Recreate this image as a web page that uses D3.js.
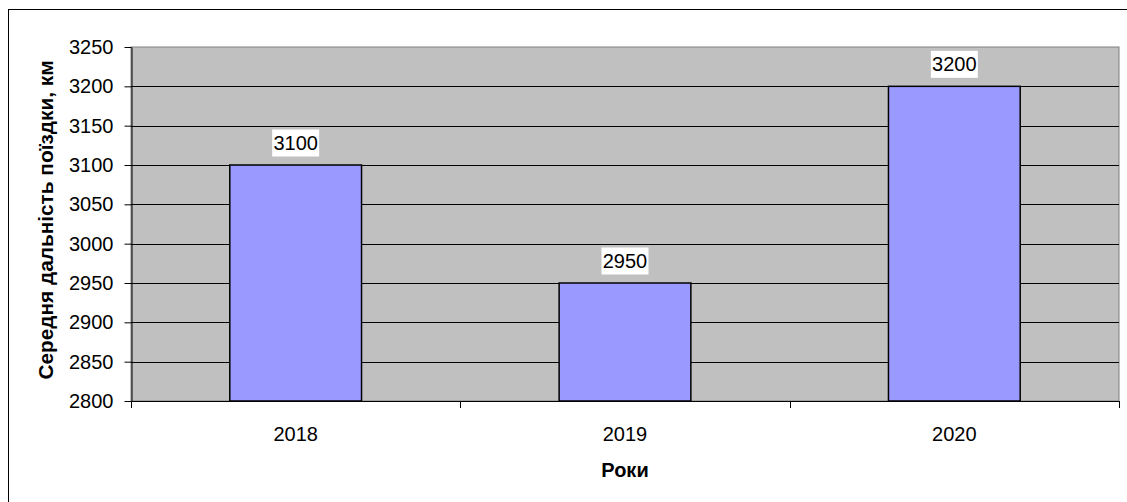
<!DOCTYPE html>
<html><head><meta charset="utf-8">
<script src="https://cdn.jsdelivr.net/npm/d3@7"></script>
<style>body{margin:0;background:#fff;} text{font-family:"Liberation Sans",Arial,sans-serif;}</style>
</head><body>
<svg id="c" width="1127" height="502"></svg>
<script>
const categories = ["2018", "2019", "2020"];
const values = [3100, 2950, 3200];
const yTicks = [2800, 2850, 2900, 2950, 3000, 3050, 3100, 3150, 3200, 3250];
const yTitle = "Середня дальність поїздки, км";
const xTitle = "Роки";

const svg = d3.select("#c");
const L = 131, R = 1119, T = 47, B = 401;
const FS = 20;

svg.append("rect").attr("x", 8.5).attr("y", 9.5).attr("width", 1130).attr("height", 500)
  .attr("fill", "#fff").attr("stroke", "#000").attr("stroke-width", 1);

const x = d3.scaleBand().domain(categories).range([L, R]).paddingInner(0.6).paddingOuter(0.3);
const y = d3.scaleLinear().domain([2800, 3250]).range([B, T]);

svg.append("rect").attr("x", L).attr("y", T).attr("width", R - L).attr("height", B - T)
  .attr("fill", "#c0c0c0").attr("stroke", "#808080");

svg.append("g").selectAll("line").data(yTicks.slice(1, -1)).join("line")
  .attr("x1", L).attr("x2", R).attr("y1", d => Math.round(y(d)) + 0.5).attr("y2", d => Math.round(y(d)) + 0.5)
  .attr("stroke", "#000");

const yAxis = svg.append("g").attr("transform", `translate(${L + 0.5},0)`)
  .call(d3.axisLeft(y).tickValues(yTicks).tickFormat(d3.format("d")).tickSize(7).tickPadding(11).tickSizeOuter(0));
yAxis.select(".domain").attr("stroke", "#000");
yAxis.selectAll(".tick line").attr("stroke", "#000");
yAxis.selectAll("text").attr("font-size", FS).attr("fill", "#000").style("font-family", "Liberation Sans, Arial, sans-serif");

const step = x.step();
const bounds = [L, L + step, L + 2 * step, R];
const xAxisG = svg.append("g");
xAxisG.append("line").attr("x1", L).attr("x2", R).attr("y1", B + 0.5).attr("y2", B + 0.5).attr("stroke", "#000");
xAxisG.selectAll("line.t").data(bounds).join("line").attr("class", "t")
  .attr("x1", d => Math.round(d) + 0.5).attr("x2", d => Math.round(d) + 0.5)
  .attr("y1", B).attr("y2", B + 7).attr("stroke", "#000");
xAxisG.selectAll("text").data(categories).join("text")
  .attr("x", d => x(d) + x.bandwidth() / 2).attr("y", 441)
  .attr("text-anchor", "middle").attr("font-size", FS).attr("fill", "#000").text(d => d);

svg.append("g").selectAll("rect").data(values).join("rect")
  .attr("x", (d, i) => x(categories[i])).attr("y", d => y(d))
  .attr("width", x.bandwidth()).attr("height", d => B - y(d))
  .attr("fill", "#9999ff").attr("stroke", "#000").attr("stroke-width", 1.5);

const lbl = svg.append("g").selectAll("g").data(values).join("g")
  .attr("transform", (d, i) => `translate(${x(categories[i]) + x.bandwidth() / 2},${y(d) - 22})`);
lbl.append("rect").attr("x", -23.5).attr("y", -13.5).attr("width", 47).attr("height", 27).attr("fill", "#fff");
lbl.append("text").attr("text-anchor", "middle").attr("y", 7).attr("font-size", FS).attr("fill", "#000").text(d => d);

svg.append("text").attr("x", (L + R) / 2).attr("y", 477).attr("text-anchor", "middle")
  .attr("font-size", FS).attr("font-weight", "bold").text(xTitle);
svg.append("text").attr("transform", `translate(53,220) rotate(-90)`).attr("text-anchor", "middle")
  .attr("font-size", 20.8).attr("font-weight", "bold").text(yTitle);
</script>
</body></html>
